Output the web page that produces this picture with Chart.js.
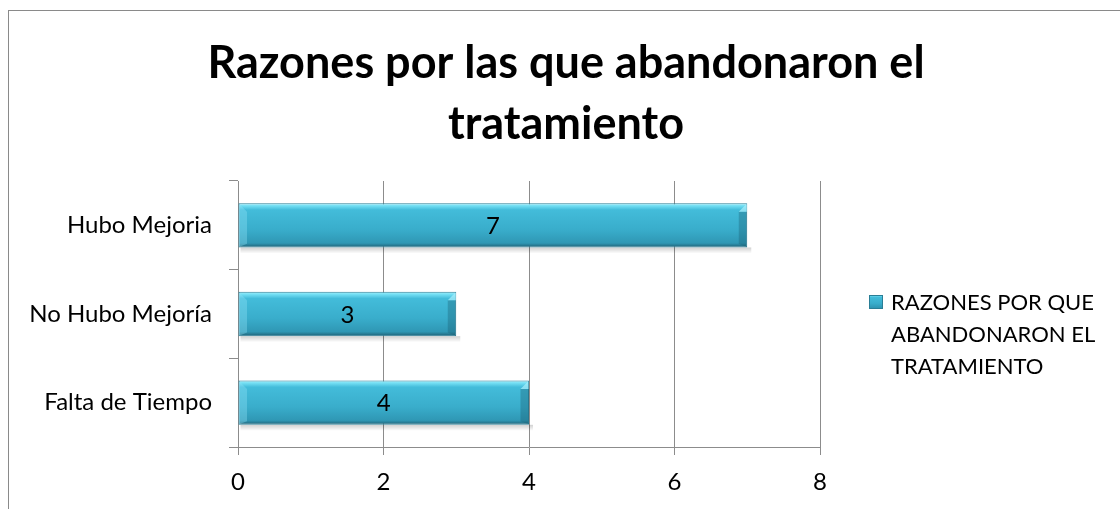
<!DOCTYPE html>
<html>
<head>
<meta charset="utf-8">
<script src="https://cdn.jsdelivr.net/npm/chart.js@4/dist/chart.umd.min.js"></script>
<style>
  html, body { margin: 0; padding: 0; background: #fff; }
  #wrap { position: relative; width: 1120px; height: 509px; overflow: hidden; }
  #frame { position: absolute; left: 8px; top: 10px; width: 1200px; height: 600px; border: 1px solid #8a8a8a; }
  canvas { position: absolute; left: 0; top: 0; }
</style>
</head>
<body>
<div id="wrap">
  <div id="frame"></div>
  <canvas id="chart" width="1120" height="509"></canvas>
</div>
<script>
// chart data
const categories = ["Hubo Mejoria", "No Hubo Mejoría", "Falta de Tiempo"];
const values = [7, 3, 4];
const seriesName = "RAZONES POR QUE ABANDONARON EL TRATAMIENTO";
const legendLines = ["RAZONES POR QUE", "ABANDONARON EL", "TRATAMIENTO"];
const titleLines = ["Razones por las que abandonaron el", "tratamiento"];
const xTicks = [0, 2, 4, 6, 8];

const FONT = "Lato, 'Open Sans', 'Liberation Sans', sans-serif";
const gridColor = "#8c8c8c";

function barGradient(ctx, top, bottom) {
    const g = ctx.createLinearGradient(0, top, 0, bottom);
    g.addColorStop(0, "#a5f0fc");
    g.addColorStop(0.06, "#72def3");
    g.addColorStop(0.15, "#43bcda");
    g.addColorStop(0.6, "#39adcb");
    g.addColorStop(0.9, "#2f97b4");
    g.addColorStop(1, "#1f5f73");
    return g;
}

// title, centred on the whole canvas (two lines)
const bigTitle = {
    id: "bigTitle",
    afterDraw(chart) {
        const ctx = chart.ctx;
        ctx.save();
        ctx.font = "bold 45px " + FONT;
        ctx.fillStyle = "#000";
        ctx.textAlign = "center";
        ctx.textBaseline = "middle";
        titleLines.forEach((line, i) => {
            ctx.fillText(line, chart.width / 2 + 6, 63 + i * 61);
        });
        ctx.restore();
    }
};

// value labels in the middle of each bar
const valueLabels = {
    id: "valueLabels",
    afterDatasetsDraw(chart) {
        const ctx = chart.ctx;
        const meta = chart.getDatasetMeta(0);
        ctx.save();
        ctx.font = "24px " + FONT;
        ctx.fillStyle = "#000";
        ctx.textAlign = "center";
        ctx.textBaseline = "middle";
        meta.data.forEach((bar, i) => {
            ctx.fillText(String(values[i]), (bar.x + bar.base) / 2, bar.y + 1);
        });
        ctx.restore();
    }
};

// soft shadow under the bars
const barShadow = {
    id: "barShadow",
    beforeDatasetsDraw(chart) {
        const ctx = chart.ctx;
        const meta = chart.getDatasetMeta(0);
        ctx.save();
        meta.data.forEach(bar => {
            const bot = bar.y + bar.height / 2;
            const g = ctx.createLinearGradient(0, bot, 0, bot + 6);
            g.addColorStop(0, "rgba(0,0,0,0.18)");
            g.addColorStop(1, "rgba(0,0,0,0)");
            ctx.fillStyle = g;
            ctx.fillRect(bar.base + 2, bot, bar.x - bar.base + 2, 6);
        });
        ctx.restore();
    }
};

// bevel on the ends of bars
const bevel = {
    id: "bevel",
    afterDatasetsDraw(chart) {
        const ctx = chart.ctx;
        const meta = chart.getDatasetMeta(0);
        ctx.save();
        meta.data.forEach(bar => {
            const top = bar.y - bar.height / 2 + 0.5;
            const bot = bar.y + bar.height / 2 - 0.5;
            const r = bar.x - 0.5;
            const l = bar.base + 0.5;
            const d = 8;
            // right end: darker slanted face
            ctx.fillStyle = "rgba(25,95,115,0.35)";
            ctx.beginPath();
            ctx.moveTo(r, top + d); ctx.lineTo(r, bot); ctx.lineTo(r - d, bot - d * 0.4); ctx.lineTo(r - d, top + d);
            ctx.closePath(); ctx.fill();
            // right top corner: lighter triangle
            ctx.fillStyle = "rgba(170,240,252,0.7)";
            ctx.beginPath();
            ctx.moveTo(r, top); ctx.lineTo(r, top + d); ctx.lineTo(r - d, top + d);
            ctx.closePath(); ctx.fill();
            // left end: small light bevel
            ctx.fillStyle = "rgba(150,230,248,0.35)";
            ctx.beginPath();
            ctx.moveTo(l, top); ctx.lineTo(l + d, top + d); ctx.lineTo(l + d, bot - d * 0.4); ctx.lineTo(l, bot);
            ctx.closePath(); ctx.fill();
        });
        ctx.restore();
    }
};

// legend with wrapped text at the right
const sideLegend = {
    id: "sideLegend",
    afterDraw(chart) {
        const ctx = chart.ctx;
        const x = chart.chartArea.right + 49;
        const y = 295;
        ctx.save();
        ctx.fillStyle = barGradient(ctx, y, y + 14);
        ctx.fillRect(x, y, 14, 14);
        ctx.strokeStyle = "#2a7e96";
        ctx.strokeRect(x + 0.5, y + 0.5, 13, 13);
        ctx.font = "22px " + FONT;
        ctx.fillStyle = "#000";
        ctx.textAlign = "left";
        ctx.textBaseline = "alphabetic";
        legendLines.forEach((line, i) => {
            ctx.fillText(line, x + 22, 310 + i * 32);
        });
        ctx.restore();
    }
};

const ctx = document.getElementById("chart").getContext("2d");
const chart = new Chart(ctx, {
    type: "bar",
    data: {
        labels: categories,
        datasets: [{
            label: seriesName,
            data: values,
            backgroundColor: (c) => {
                const y = c.chart.scales.y;
                if (!y || c.type !== "data") return "#3aaecd";
                const center = y.getPixelForValue(c.dataIndex);
                const half = Math.abs(y.getPixelForValue(1) - y.getPixelForValue(0)) / 4;
                if (!isFinite(center) || !isFinite(half) || half === 0) return "#3aaecd";
                return barGradient(c.chart.ctx, center - half, center + half);
            },
            borderColor: "#2a7e96",
            borderWidth: 1,
            borderSkipped: false,
            barPercentage: 0.5,
            categoryPercentage: 1
        }]
    },
    options: {
        indexAxis: "y",
        responsive: false,
        animation: false,
        layout: { padding: { top: 181, right: 300, bottom: 0, left: 0 } },
        plugins: {
            legend: { display: false },
            tooltip: { enabled: false },
            title: { display: false }
        },
        scales: {
            x: {
                min: 0,
                max: 8,
                afterFit: s => { s.height = 62; },
                afterBuildTicks: s => { s.ticks = xTicks.map(v => ({ value: v })); },
                grid: { color: gridColor, tickLength: 8, lineWidth: 1 },
                border: { color: gridColor },
                ticks: { color: "#000", font: { family: FONT, size: 24 }, padding: 13 }
            },
            y: {
                afterFit: s => { s.width = 238; },
                grid: { color: gridColor, drawOnChartArea: false, tickLength: 9, offset: true },
                border: { color: gridColor },
                ticks: { color: "#000", font: { family: FONT, size: 24 }, padding: 17 }
            }
        }
    },
    plugins: [barShadow, bevel, valueLabels, sideLegend, bigTitle]
});
</script>
</body>
</html>
